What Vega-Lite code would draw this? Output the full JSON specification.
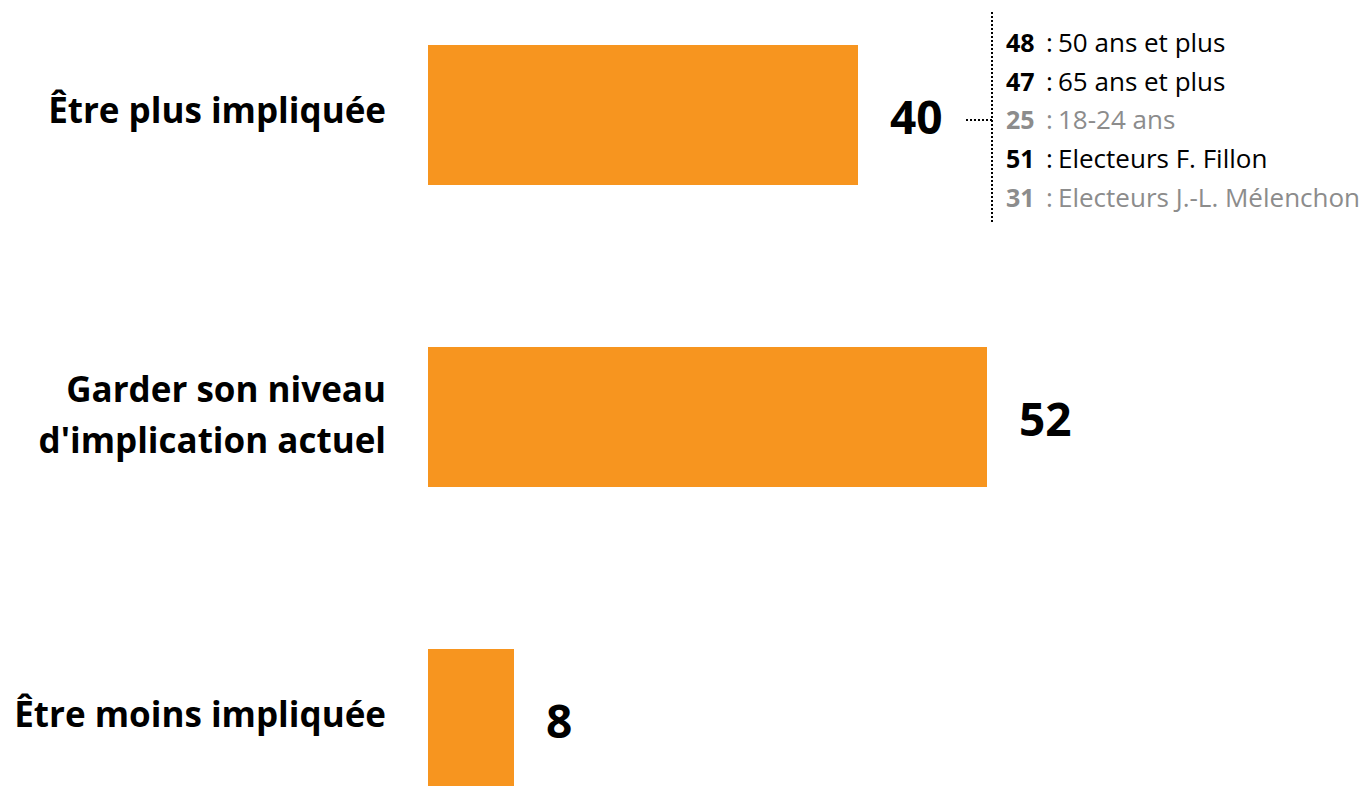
{
  "$schema": "https://vega.github.io/schema/vega-lite/v6.json",
  "width": 1370,
  "height": 786,
  "autosize": "none",
  "padding": 0,
  "background": "white",
  "config": {"view": {"stroke": null}, "font": "Open Sans"},
  "datasets": {
    "reponses": [
      {"réponse": "Être plus impliquée", "libellé": "Être plus impliquée", "valeur": 40},
      {"réponse": "Garder son niveau d'implication actuel", "libellé": "Garder son niveau\nd'implication actuel", "valeur": 52},
      {"réponse": "Être moins impliquée", "libellé": "Être moins impliquée", "valeur": 8}
    ],
    "details": [
      {"réponse": "Être plus impliquée", "ligne": 1, "score": 48, "sous_groupe": "50 ans et plus", "tendance": "au-dessus"},
      {"réponse": "Être plus impliquée", "ligne": 2, "score": 47, "sous_groupe": "65 ans et plus", "tendance": "au-dessus"},
      {"réponse": "Être plus impliquée", "ligne": 3, "score": 25, "sous_groupe": "18-24 ans", "tendance": "en dessous"},
      {"réponse": "Être plus impliquée", "ligne": 4, "score": 51, "sous_groupe": "Electeurs F. Fillon", "tendance": "au-dessus"},
      {"réponse": "Être plus impliquée", "ligne": 5, "score": 31, "sous_groupe": "Electeurs J.-L. Mélenchon", "tendance": "en dessous"}
    ]
  },
  "resolve": {"scale": {"y": "independent"}},
  "layer": [
    {
      "data": {"name": "reponses"},
      "encoding": {
        "y": {"field": "réponse", "type": "nominal", "sort": null,
              "scale": {"range": [0, 834], "paddingInner": 0.5364, "paddingOuter": 0.149}, "axis": null},
        "x": {"field": "valeur", "type": "quantitative",
              "scale": {"domain": [0, 100], "range": [428, 1503]}, "axis": null}
      },
      "layer": [
        {"mark": {"type": "bar", "color": "#F7951F"}},
        {"mark": {"type": "text", "align": "left", "baseline": "middle", "dx": 32, "dy": 5,
                  "fontSize": 46, "fontWeight": "bold", "color": "#000000"},
         "encoding": {"text": {"field": "valeur", "type": "quantitative"}}},
        {"mark": {"type": "text", "align": "right", "baseline": "middle", "dx": -42,
                  "dy": {"expr": "indexof(datum['libellé'], '\\n') >= 0 ? -26 : -3"},
                  "fontSize": 35, "fontWeight": "bold", "color": "#000000", "lineBreak": "\n", "lineHeight": 51},
         "encoding": {"x": {"datum": 0}, "text": {"field": "libellé", "type": "nominal"}}},
        {"transform": [{"filter": "datum['réponse'] == 'Être plus impliquée'"}],
         "mark": {"type": "rule", "color": "#000000", "strokeWidth": 2, "strokeDash": [2, 2],
                  "xOffset": 134, "yOffset": -103, "y2Offset": 107},
         "encoding": {"y2": {"field": "réponse"}}},
        {"transform": [{"filter": "datum['réponse'] == 'Être plus impliquée'"}],
         "mark": {"type": "rule", "color": "#000000", "strokeWidth": 2, "strokeDash": [2, 2],
                  "xOffset": 108, "x2Offset": 134, "yOffset": 5},
         "encoding": {"x2": {"field": "valeur"}}}
      ]
    },
    {
      "data": {"name": "details"},
      "transform": [
        {"lookup": "réponse", "from": {"data": {"name": "reponses"}, "key": "réponse", "fields": ["valeur"]}}
      ],
      "encoding": {
        "y": {"field": "ligne", "type": "ordinal",
              "scale": {"type": "point", "range": [43, 197.5], "padding": 0}, "axis": null},
        "x": {"field": "valeur", "type": "quantitative"},
        "color": {"field": "tendance", "type": "nominal",
                  "scale": {"domain": ["au-dessus", "en dessous"], "range": ["#000000", "#8C8C8C"]},
                  "legend": null}
      },
      "layer": [
        {"mark": {"type": "text", "align": "left", "baseline": "middle", "dx": 148, "dy": 1,
                  "fontSize": 25, "fontWeight": "bold"},
         "encoding": {"text": {"field": "score", "type": "quantitative"}}},
        {"mark": {"type": "text", "align": "left", "baseline": "middle", "dx": 188, "dy": 1,
                  "fontSize": 26, "text": ":"}},
        {"mark": {"type": "text", "align": "left", "baseline": "middle", "dx": 200, "dy": 1,
                  "fontSize": 26},
         "encoding": {"text": {"field": "sous_groupe", "type": "nominal"}}}
      ]
    }
  ]
}
